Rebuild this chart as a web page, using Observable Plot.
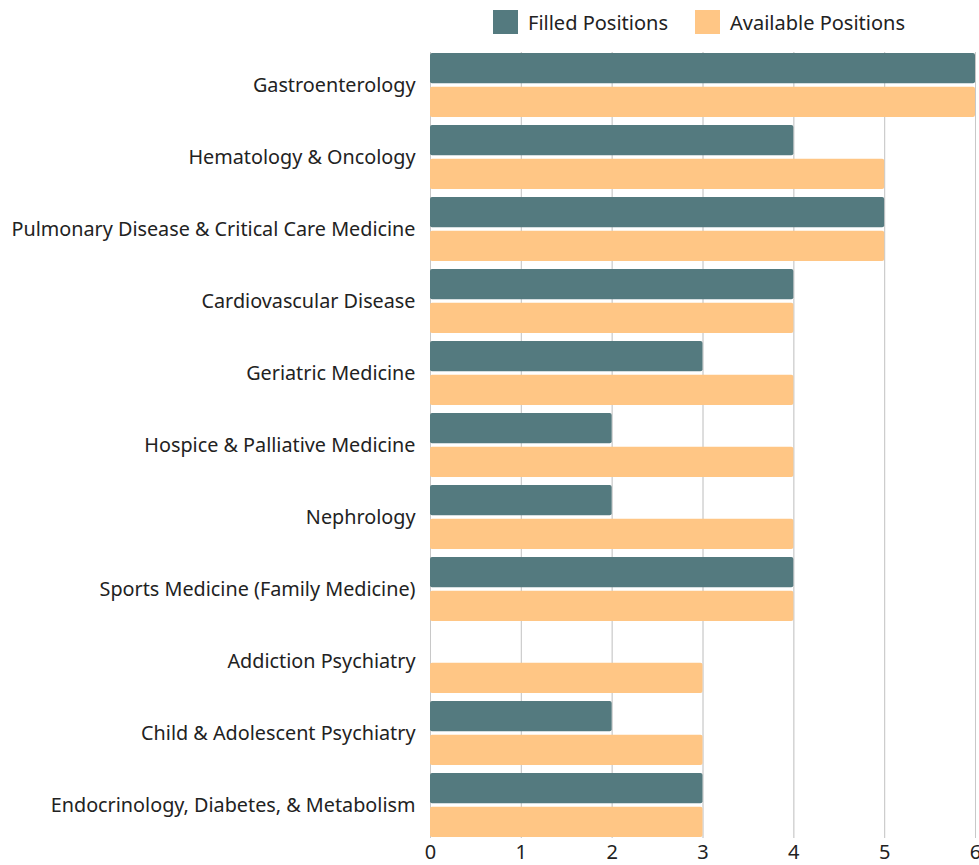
<!DOCTYPE html>
<html>
<head>
<meta charset="utf-8">
<script src="https://cdn.jsdelivr.net/npm/d3@7"></script>
<script src="https://cdn.jsdelivr.net/npm/@observablehq/plot@0.6"></script>
<style>
  body { margin: 0; background: #fff; font-family: "Noto Sans", sans-serif; overflow: hidden; }
  #wrap { position: relative; width: 979px; }
  #legend { height: 44px; position: relative; font-size: 20px; color: #222; }
  .item { position: absolute; top: 10px; display: flex; align-items: center; height: 24px; }
  .sw { width: 25px; height: 24px; margin-right: 10px; }
</style>
</head>
<body>
<div id="wrap">
  <div id="legend"></div>
  <div id="chart"></div>
</div>
<script>
const categories = [
  "Gastroenterology",
  "Hematology & Oncology",
  "Pulmonary Disease & Critical Care Medicine",
  "Cardiovascular Disease",
  "Geriatric Medicine",
  "Hospice & Palliative Medicine",
  "Nephrology",
  "Sports Medicine (Family Medicine)",
  "Addiction Psychiatry",
  "Child & Adolescent Psychiatry",
  "Endocrinology, Diabetes, & Metabolism"
];
const filled =    [6, 4, 5, 4, 3, 2, 2, 4, 0, 2, 3];
const available = [6, 5, 5, 4, 4, 4, 4, 4, 3, 3, 3];
const seriesNames = ["Filled Positions", "Available Positions"];
const seriesColors = ["#547a7f", "#ffc685"];
const xTicks = [0, 1, 2, 3, 4, 5, 6];

const filledData = categories.map((c, i) => ({category: c, value: filled[i]}));
const availData = categories.map((c, i) => ({category: c, value: available[i]}));

// legend
const legend = document.getElementById("legend");
const legendLefts = [493, 695];
seriesNames.forEach((name, i) => {
  const it = document.createElement("div");
  it.className = "item";
  it.style.left = legendLefts[i] + "px";
  it.innerHTML = `<div class="sw" style="background:${seriesColors[i]}"></div><span>${name}</span>`;
  legend.appendChild(it);
});

const bandH = 64.2;
const half = bandH / 2 + 1.6;

const chart = Plot.plot({
  width: 979,
  height: 821,
  marginLeft: 430,
  marginRight: 4,
  marginTop: 8,
  marginBottom: 27,
  style: {fontFamily: "Noto Sans, sans-serif", color: "#222", background: "#fff"},
  x: {domain: [0, 6], ticks: xTicks, grid: true, label: null, tickSize: 0},
  y: {domain: categories, paddingInner: 0.111, paddingOuter: 0, label: null, tickSize: 0},
  marks: [
    Plot.gridX(xTicks, {stroke: "#c8c8c8", strokeOpacity: 1, strokeWidth: 1}),
    Plot.barX(filledData, {x: "value", y: "category", fill: seriesColors[0], insetBottom: half, rx: 2}),
    Plot.barX(availData, {x: "value", y: "category", fill: seriesColors[1], insetTop: half, rx: 2}),
    Plot.axisX({ticks: xTicks, tickFormat: "d", tickSize: 0, tickPadding: 6, fontSize: 20, label: null}),
    Plot.axisY({tickSize: 0, tickPadding: 15, fontSize: 19.8, label: null})
  ]
});
document.getElementById("chart").appendChild(chart);
</script>
</body>
</html>
